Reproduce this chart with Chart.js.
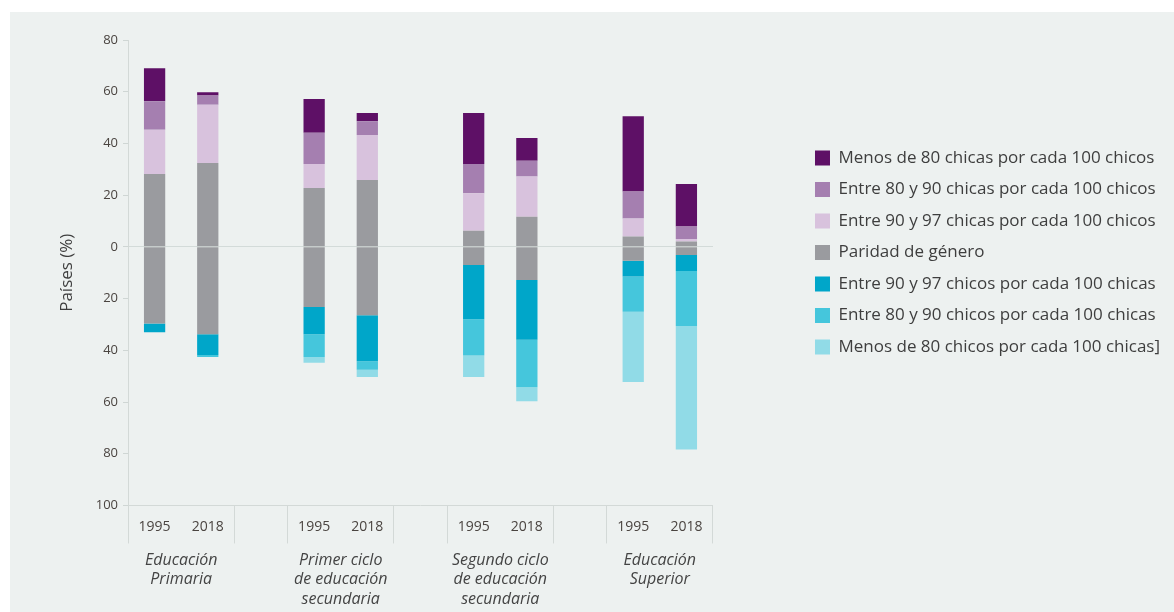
<!DOCTYPE html>
<html><head><meta charset="utf-8">
<script src="https://cdn.jsdelivr.net/npm/chart.js@4"></script>
<style>
html,body{margin:0;padding:0;background:#ffffff;}
#wrap{position:absolute;left:10px;top:12px;width:1164px;height:600px;background:#edf1f0;}
</style></head><body>
<div id="wrap"><canvas id="c"></canvas></div>
<script>
const niveles = [['Educación','Primaria'],['Primer ciclo','de educación','secundaria'],['Segundo ciclo','de educación','secundaria'],['Educación','Superior']];
const anos = ['1995','2018'];
// order: Primaria 1995, 2018 | Primer ciclo 1995, 2018 | Segundo ciclo 1995, 2018 | Superior 1995, 2018
const menos80Chicas    = [12.8, 1.3, 13.1, 3.2, 19.8, 8.8, 29.1, 16.4];
const entre80y90Chicas = [11.0, 3.5, 12.1, 5.3, 11.3, 6.1, 10.4, 4.9];
const entre90y97Chicas = [17.1, 22.6, 9.2, 17.4, 14.5, 15.6, 7.0, 0.9];
const paridadArriba    = [28.2, 32.4, 22.8, 25.9, 6.2, 11.6, 4.0, 2.1];
const paridadAbajo     = [29.6, 33.8, 23.3, 26.4, 7.0, 12.8, 5.4, 3.1];
const entre90y97Chicos = [3.4, 8.0, 10.5, 17.8, 21.0, 23.1, 6.1, 6.2];
const entre80y90Chicos = [0, 0.8, 8.8, 3.3, 14.0, 18.4, 13.6, 21.3];
const menos80Chicos    = [0, 0, 2.2, 2.8, 8.3, 5.4, 27.2, 47.8];
const yMin = -100, yMax = 80, yStep = 20;

function slots(arr, sign){
  const out = [];
  arr.forEach((v,i)=>{ out.push(v*sign); if(i%2===1 && i<arr.length-1) out.push(null); });
  return out;
}
const xLabels = [];
niveles.forEach((n,g)=>{ anos.forEach(a=>xLabels.push(a)); if(g<niveles.length-1) xLabels.push(''); });

const C = {
  dark:'#5e1066', mid:'#a57fb0', light:'#d8c2dd', gray:'#9a9b9f',
  cDark:'#00a6c9', cMid:'#45c6dc', cLight:'#91dbe7'
};
const datasets = [
  {label:'Paridad de género', data:slots(paridadArriba,1), backgroundColor:C.gray},
  {label:'Entre 90 y 97 chicas por cada 100 chicos', data:slots(entre90y97Chicas,1), backgroundColor:C.light},
  {label:'Entre 80 y 90 chicas por cada 100 chicos', data:slots(entre80y90Chicas,1), backgroundColor:C.mid},
  {label:'Menos de 80 chicas por cada 100 chicos', data:slots(menos80Chicas,1), backgroundColor:C.dark},
  {label:'Paridad de género', data:slots(paridadAbajo,-1), backgroundColor:C.gray},
  {label:'Entre 90 y 97 chicos por cada 100 chicas', data:slots(entre90y97Chicos,-1), backgroundColor:C.cDark},
  {label:'Entre 80 y 90 chicos por cada 100 chicas', data:slots(entre80y90Chicos,-1), backgroundColor:C.cMid},
  {label:'Menos de 80 chicos por cada 100 chicas]', data:slots(menos80Chicos,-1), backgroundColor:C.cLight}
];
const legendRank = {3:0, 2:1, 1:2, 0:3, 5:4, 6:5, 7:6};
const hiddenGap = [1,4,7,10];
const FONT = "'Open Sans', 'Noto Sans', sans-serif";

new Chart(document.getElementById('c'), {
  type:'bar',
  data:{ labels:xLabels, datasets:datasets.map(d=>Object.assign({barPercentage:0.4, categoryPercentage:1.0, borderWidth:0}, d)) },
  options:{
    responsive:true, maintainAspectRatio:false, animation:false,
    layout:{ padding:{ top:28, left:47, right:4, bottom:3 } },
    plugins:{
      tooltip:{enabled:false},
      legend:{
        position:'right', align:'start', maxWidth:420,
        title:{ display:true, text:'', font:{size:12}, padding:{top:80.5, bottom:0} },
        labels:{
          boxWidth:15, boxHeight:15, padding:14.5, color:'#3e3e3e',
          font:{ family:FONT, size:17 },
          filter:(item)=>item.datasetIndex!==4,
          sort:(a,b)=>legendRank[a.datasetIndex]-legendRank[b.datasetIndex]
        }
      }
    },
    scales:{
      x:{
        stacked:true, position:'bottom', weight:0,
        grid:{ offset:true, drawOnChartArea:false, drawTicks:true, tickLength:38,
               color:(ctx)=> hiddenGap.includes(ctx.index) ? 'rgba(0,0,0,0)' : '#d3d9d7' },
        border:{ display:true, color:'#d3d9d7' },
        ticks:{ padding:-25, color:'#4a4440', font:{ family:FONT, size:14 }, autoSkip:false, maxRotation:0 },
        afterFit:(s)=>{ s.height = 45; }
      },
      xg:{
        type:'linear', position:'bottom', weight:1, min:-0.5, max:10.5, offset:false, bounds:'data',
        afterBuildTicks:(s)=>{ s.ticks = niveles.map((n,i)=>({value:i*3+0.5})); },
        grid:{ display:false, drawTicks:false, offset:false }, border:{ display:false },
        ticks:{ autoSkip:false, maxRotation:0, padding:0, color:'#444',
                font:{ family:FONT, size:16, style:'italic', lineHeight:1.22 },
                callback:(v,i)=>niveles[i] }
      },
      y:{
        stacked:true, min:yMin, max:yMax,
        ticks:{ stepSize:yStep, padding:5, color:'#4a4440', font:{ family:FONT, size:13 },
                callback:(v)=>Math.abs(v) },
        grid:{ drawOnChartArea:true, drawTicks:true, tickLength:5, tickColor:'#cfd6d4',
               color:(ctx)=> ctx.tick && ctx.tick.value===0 ? '#d3dbd9' : 'rgba(0,0,0,0)' },
        border:{ display:true, color:'#d3d9d7' },
        title:{ display:true, text:'Países (%)', color:'#3e3e3e', font:{ family:FONT, size:17 }, padding:0 },
        afterFit:(s)=>{ s.width = 71; }
      },
      yPad:{
        type:'linear', position:'right', display:true,
        grid:{ display:false, drawTicks:false }, border:{ display:false }, ticks:{ display:false },
        afterFit:(s)=>{ s.width = 87.5; }
      }
    }
  }
});
</script>
</body></html>
